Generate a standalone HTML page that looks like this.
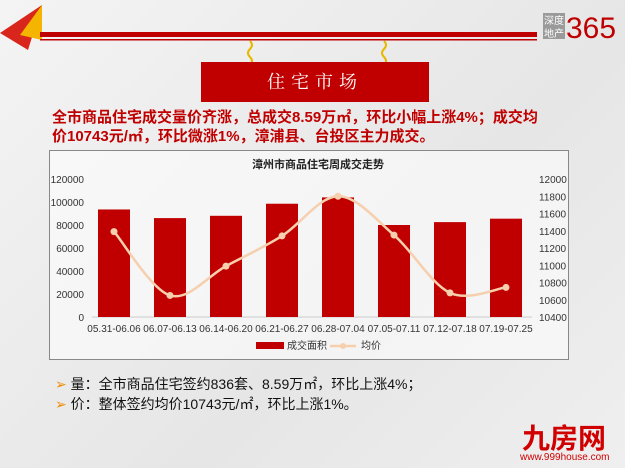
<!DOCTYPE html>
<html><head><meta charset="utf-8">
<style>
body{margin:0;width:625px;height:468px;overflow:hidden;background:linear-gradient(135deg,#f4f4f4,#e6e6e6 60%,#efefef);font-family:"Liberation Sans","Noto Sans CJK SC",sans-serif;position:relative}
.a{position:absolute}
</style></head><body>
<svg class="a" style="left:0;top:0" width="625" height="468">
<polygon points="0,33 42,5 28,50" fill="#d9261c"/>
<polygon points="20,35 42,5 42,40" fill="#f5b400"/>
<rect x="40" y="32" width="497" height="5" fill="#c00000"/>
<rect x="40" y="39" width="497" height="1.5" fill="#c00000"/>
<path d="M250 41 q4 4 0 8 q-4 4 0 8 q4 4 0 8" stroke="#e8b800" stroke-width="2" fill="none"/>
<path d="M384 41 q4 4 0 8 q-4 4 0 8 q4 4 0 8" stroke="#e8b800" stroke-width="2" fill="none"/>
<rect x="201" y="62" width="228" height="40" fill="#c00000"/>
<text x="315" y="88" text-anchor="middle" fill="#fff" font-size="18" font-family="Liberation Serif,Noto Serif CJK SC,serif" letter-spacing="6">住宅市场</text>
<rect x="543" y="13" width="22" height="26" fill="#9a9a9a"/>
<text x="544" y="24" fill="#fff" font-size="10">深度</text>
<text x="544" y="37" fill="#fff" font-size="10">地产</text>
<text x="566" y="38" fill="#c00000" font-size="30">365</text>
</svg>
<div class="a" style="left:52px;top:108px;width:560px;color:#c00000;font-weight:bold;font-size:15px;line-height:19px;white-space:nowrap">全市商品住宅成交量价齐涨，总成交8.59万㎡，环比小幅上涨4%；成交均<br>价10743元/㎡，环比微涨1%，漳浦县、台投区主力成交。</div>
<div class="a" style="left:49px;top:150px;width:518px;height:208px;border:1px solid #888;background:rgba(255,255,255,0.55)"></div>
<svg class="a" id="chart" style="left:0;top:0" width="625" height="468"></svg>
<div class="a" style="left:55px;top:374px;font-size:14px;line-height:20px;color:#111">
<div><span style="color:#f08a00">➢</span> 量：全市商品住宅签约836套、8.59万㎡，环比上涨4%；</div>
<div><span style="color:#f08a00">➢</span> 价：整体签约均价10743元/㎡，环比上涨1%。</div>
</div>
<div class="a" style="left:522px;top:425px;color:#d10000;font-size:28px;font-weight:bold;line-height:28px">九房网</div>
<div class="a" style="left:520px;top:452px;color:#d10000;font-size:10px">www.999house.com</div>
<script>
const categories=["05.31-06.06","06.07-06.13","06.14-06.20","06.21-06.27","06.28-07.04","07.05-07.11","07.12-07.18","07.19-07.25"];
const areaValues=[93500,86000,88000,98500,104000,80000,82500,85500];
const priceValues=[11390,10650,10990,11340,11800,11350,10680,10743];
const leftTicks=[0,20000,40000,60000,80000,100000,120000];
const rightTicks=[10400,10600,10800,11000,11200,11400,11600,11800,12000];
const svg=document.getElementById('chart');const NS='http://www.w3.org/2000/svg';
const y0=317,y1=179;
const yL=v=>y0-(v/120000)*(y0-y1);
const yR=v=>y0-((v-10400)/1600)*(y0-y1);
const xC=i=>114+i*56;
function mk(t,a){const e=document.createElementNS(NS,t);for(const k in a)e.setAttribute(k,a[k]);svg.appendChild(e);return e;}
let t=mk('text',{x:318,y:168,'text-anchor':'middle','font-size':11,'font-weight':'bold',fill:'#222'});t.textContent='漳州市商品住宅周成交走势';


mk('line',{x1:92,x2:532,y1:y0,y2:y0,stroke:'#ccc'});
leftTicks.forEach(v=>{const e=mk('text',{x:84,y:yL(v)+4,'text-anchor':'end','font-size':10,fill:'#333'});e.textContent=v;

});
rightTicks.forEach(v=>{const e=mk('text',{x:539,y:yR(v)+4,'font-size':10,fill:'#333'});e.textContent=v;

});
areaValues.forEach((v,i)=>{const r=mk('rect',{x:xC(i)-16,y:yL(v),width:32,height:y0-yL(v),fill:'#c00000'});


const e=mk('text',{x:xC(i),y:332,'text-anchor':'middle','font-size':10,fill:'#333'});e.textContent=categories[i];

});
const pts=priceValues.map((v,i)=>[xC(i),yR(v)]);
let d='M'+pts[0];
for(let i=0;i<pts.length-1;i++){const p0=pts[i-1]||pts[i],p1=pts[i],p2=pts[i+1],p3=pts[i+2]||p2;
d+=` C${p1[0]+(p2[0]-p0[0])/6},${p1[1]+(p2[1]-p0[1])/6} ${p2[0]-(p3[0]-p1[0])/6},${p2[1]-(p3[1]-p1[1])/6} ${p2[0]},${p2[1]}`;}
const ln=mk('path',{d:d,fill:'none',stroke:'#f5cfae','stroke-width':2.5});


pts.forEach(p=>{const c=mk('circle',{cx:p[0],cy:p[1],r:3.5,fill:'#f5cfae'});

});
mk('rect',{x:256,y:342,width:28,height:7,fill:'#c00000'});
t=mk('text',{x:287,y:349,'font-size':10,fill:'#333'});t.textContent='成交面积';


mk('line',{x1:330,x2:356,y1:346,y2:346,stroke:'#f5cfae','stroke-width':2.5});
mk('circle',{cx:343,cy:346,r:3,fill:'#f5cfae'});
t=mk('text',{x:361,y:349,'font-size':10,fill:'#333'});t.textContent='均价';


</script>
</body></html>
